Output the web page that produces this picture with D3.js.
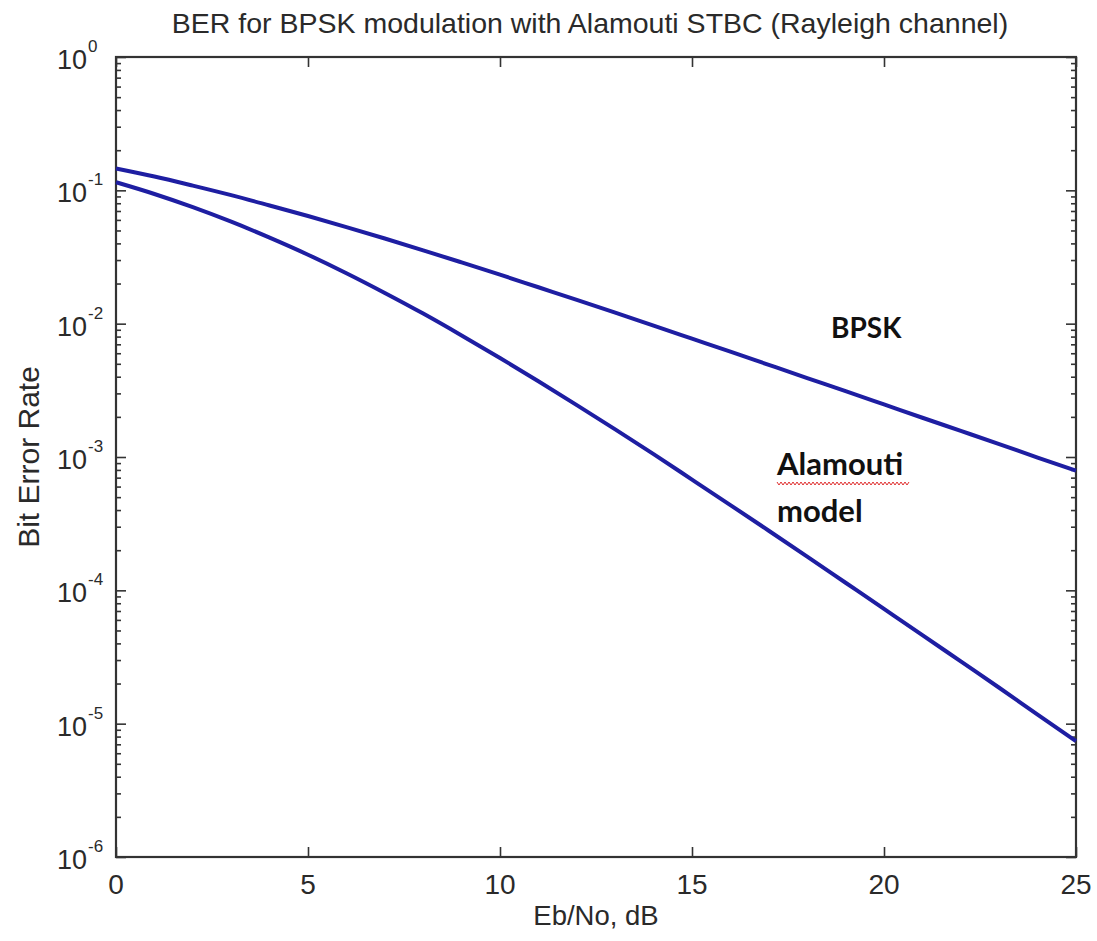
<!DOCTYPE html>
<html><head><meta charset="utf-8">
<script src="https://cdn.jsdelivr.net/npm/d3@7"></script>
<style>body{margin:0;background:#fff}</style>
</head><body><svg id="c" width="1097" height="941"></svg>
<script>
const ebno = [0,1,2,3,4,5,6,7,8,9,10,11,12,13,14,15,16,17,18,19,20,21,22,23,24,25];
const berBPSK = [0.146,0.127,0.1085,0.092,0.077,0.0642,0.053,0.0435,0.0355,0.0288,0.0233,0.01875,0.0151,0.0121,0.00966,0.00772,0.00617,0.00491,0.00391,0.00312,0.00248,0.00197,0.00157,0.00125,0.00099,0.00079];
const berAlamouti = [0.115,0.0939,0.0748,0.0582,0.0442,0.0329,0.0239,0.017,0.0119,0.00816,0.00553,0.0037,0.00245,0.00161,0.00105,0.000677,0.000436,0.00028,0.000179,0.000114,0.0000726,0.0000462,0.0000293,0.0000186,0.0000117,0.0000074];
const xTicks = [0,5,10,15,20,25];
const yExponents = [0,-1,-2,-3,-4,-5,-6];
const titleText = "BER for BPSK modulation with Alamouti STBC (Rayleigh channel)";
const xLabel = "Eb/No, dB";
const yLabel = "Bit Error Rate";

const svg = d3.select("#c");
const L = 116, R = 1076, T = 57, B = 857;
const x = d3.scaleLinear().domain([0,25]).range([L,R]);
const y = d3.scaleLog().domain([1e-6,1]).range([B,T]);

const lineColor = "#1e1ea2";
const axisColor = "#333";
const font = "'Liberation Sans', Arial, sans-serif";

const allY = y.ticks();
const majorY = yExponents.map(e => Math.pow(10,e));
const minorY = allY.filter(v => !majorY.some(m => Math.abs(m - v)/v < 1e-9));

function styleAxis(g){
  g.select(".domain").remove();
  g.selectAll(".tick line").attr("stroke", axisColor).attr("stroke-width", 1.6);
  g.selectAll(".tick text").remove();
}
svg.append("g").attr("transform",`translate(${L},0)`).call(d3.axisLeft(y).tickValues(minorY).tickSize(-5).tickFormat("")).call(styleAxis);
svg.append("g").attr("transform",`translate(${L},0)`).call(d3.axisLeft(y).tickValues(majorY).tickSize(-10).tickFormat("")).call(styleAxis);
svg.append("g").attr("transform",`translate(${R},0)`).call(d3.axisRight(y).tickValues(minorY).tickSize(-5).tickFormat("")).call(styleAxis);
svg.append("g").attr("transform",`translate(${R},0)`).call(d3.axisRight(y).tickValues(majorY).tickSize(-10).tickFormat("")).call(styleAxis);
svg.append("g").attr("transform",`translate(0,${B})`).call(d3.axisBottom(x).tickValues(xTicks).tickSize(-10).tickFormat("")).call(styleAxis);
svg.append("g").attr("transform",`translate(0,${T})`).call(d3.axisTop(x).tickValues(xTicks).tickSize(-10).tickFormat("")).call(styleAxis);

svg.append("rect").attr("x",L).attr("y",T).attr("width",R-L).attr("height",B-T)
  .attr("fill","none").attr("stroke",axisColor).attr("stroke-width",2.2);

const yl = svg.append("g").attr("font-family",font).attr("fill","#2a2a2a");
yExponents.forEach(e => {
  const v = Math.pow(10,e);
  yl.append("text").attr("x",87).attr("y",y(v)+12).attr("font-size",27).attr("text-anchor","end").text("10");
  yl.append("text").attr("x",88).attr("y",y(v)-5).attr("font-size",17).text(e===0?"0":"-"+Math.abs(e));
});
svg.append("g").selectAll("text").data(xTicks).join("text")
  .attr("x",d=>x(d)).attr("y",B+37).attr("text-anchor","middle")
  .attr("font-family",font).attr("font-size",28).attr("fill","#2a2a2a").text(d=>d);

svg.append("text").attr("x",590).attr("y",33).attr("text-anchor","middle")
  .attr("font-family",font).attr("font-size",28.5).attr("fill","#2a2a2a").text(titleText);
svg.append("text").attr("x",596).attr("y",925).attr("text-anchor","middle")
  .attr("font-family",font).attr("font-size",27.5).attr("fill","#2a2a2a").text(xLabel);
svg.append("text").attr("transform",`translate(39,${(T+B)/2}) rotate(-90)`).attr("text-anchor","middle")
  .attr("font-family",font).attr("font-size",30).attr("fill","#2a2a2a").text(yLabel);

const line = d3.line().x((d,i)=>x(ebno[i])).y(d=>y(d)).curve(d3.curveMonotoneX);
[berBPSK, berAlamouti].forEach(s => {
  svg.append("path").datum(s).attr("d",line).attr("fill","none")
    .attr("stroke",lineColor).attr("stroke-width",4).attr("stroke-linejoin","round");
});

const af = "Lato, 'Open Sans', sans-serif";
svg.append("text").attr("x",831).attr("y",338).attr("font-family",af).attr("font-weight","bold")
  .attr("font-size",28).attr("fill","#111").text("BPSK");
svg.append("text").attr("x",777).attr("y",475).attr("font-family",af).attr("font-weight","bold")
  .attr("font-size",31).attr("fill","#111").text("Alamouti");
svg.append("text").attr("x",777).attr("y",522).attr("font-family",af).attr("font-weight","bold")
  .attr("font-size",31).attr("fill","#111").text("model");
let sq = "M777,482";
for (let xx = 777; xx < 908; xx += 4) sq += ` L${xx+2},485 L${xx+4},482`;
svg.append("path").attr("d",sq).attr("fill","none").attr("stroke","#e03030").attr("stroke-width",1);
</script></body></html>
